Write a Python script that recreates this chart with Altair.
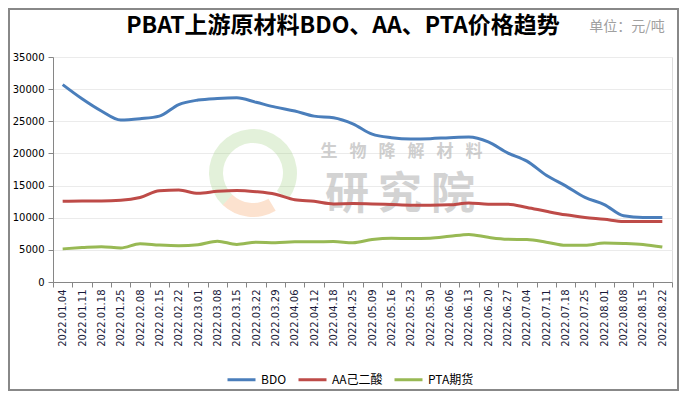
import altair as alt
import pandas as pd

dates = ["2022.01.04", "2022.01.11", "2022.01.18", "2022.01.25", "2022.02.08", "2022.02.15",
         "2022.02.22", "2022.03.01", "2022.03.08", "2022.03.15", "2022.03.22", "2022.03.29",
         "2022.04.06", "2022.04.12", "2022.04.18", "2022.04.25", "2022.05.09", "2022.05.16",
         "2022.05.23", "2022.05.30", "2022.06.06", "2022.06.13", "2022.06.20", "2022.06.27",
         "2022.07.04", "2022.07.11", "2022.07.18", "2022.07.25", "2022.08.01", "2022.08.08",
         "2022.08.15", "2022.08.22"]

bdo = [30700, 28500, 26600, 25200, 25400, 25800, 27600, 28300, 28550, 28650, 27950, 27200,
       26600, 25800, 25550, 24600, 23000, 22450, 22250, 22300, 22450, 22550, 21800, 20100,
       18800, 16600, 14950, 13150, 12050, 10300, 10050, 10050]
aa = [12550, 12600, 12600, 12700, 13150, 14200, 14300, 13800, 14100, 14250, 14050, 13650,
      12800, 12550, 12150, 12200, 12150, 12050, 11950, 11950, 12000, 12300, 12100, 12100,
      11600, 11000, 10450, 10050, 9750, 9400, 9400, 9400]
pta = [5150, 5350, 5500, 5300, 5950, 5750, 5650, 5800, 6350, 5850, 6200, 6100,
       6250, 6250, 6300, 6100, 6600, 6800, 6750, 6800, 7100, 7400, 6950, 6650,
       6600, 6200, 5700, 5700, 6050, 6000, 5850, 5450]

series = ["BDO", "AA己二酸", "PTA期货"]
colors = ["#4a7ebb", "#be4b48", "#98b954"]
y_ticks = [0, 5000, 10000, 15000, 20000, 25000, 30000, 35000]

title_text = "PBAT上游原材料BDO、AA、PTA价格趋势"
unit_text = "单位：元/吨"
wm_small = ["生", "物", "降", "解", "材", "料"]
wm_big = ["研", "究", "院"]

rows = []
for name, vals in zip(series, [bdo, aa, pta]):
    for d, v in zip(dates, vals):
        rows.append({"date": d, "value": v, "series": name})
df = pd.DataFrame(rows)

W, H = 619, 225
FONT = "DejaVu Sans"
CJK = "Noto Sans CJK SC"

one = pd.DataFrame({"a": [0]})

# watermark
ring = alt.Chart(one).mark_arc(innerRadius=30, outerRadius=44, theta=3.9, theta2=8.5,
                               color="#9ccc7a", opacity=0.28).encode(
    x=alt.value(200), y=alt.value(116))
ring2 = alt.Chart(one).mark_arc(innerRadius=30, outerRadius=44, theta=2.6, theta2=3.9,
                                color="#f4a060", opacity=0.3).encode(
    x=alt.value(200), y=alt.value(116))

wm1 = pd.DataFrame({"t": wm_small, "px": [276 + 29 * i for i in range(6)]})
wm2 = pd.DataFrame({"t": wm_big, "px": [294 + 53 * i for i in range(3)]})
wmt1 = alt.Chart(wm1).mark_text(font=CJK, fontSize=17, fontWeight="bold", color="#b0b0b0",
                                opacity=0.6).encode(
    x=alt.X("px:Q", scale=None), y=alt.value(95), text="t:N")
wmt2 = alt.Chart(wm2).mark_text(font=CJK, fontSize=44, fontWeight="bold", color="#b0b0b0",
                                opacity=0.55).encode(
    x=alt.X("px:Q", scale=None), y=alt.value(139), text="t:N")

lines = alt.Chart(df).mark_line(interpolate="monotone", strokeWidth=3).encode(
    x=alt.X("date:N", sort=dates,
            scale=alt.Scale(type="band", paddingInner=0, paddingOuter=0),
            axis=alt.Axis(title=None, labelAngle=270, tickBand="extent", tickSize=5,
                          tickColor="#868686", domainColor="#868686", labelPadding=2,
                          labelFont=FONT, labelFontSize=10, labelColor="#1a1a3a",
                          grid=False)),
    y=alt.Y("value:Q", scale=alt.Scale(domain=[0, 35000], nice=False),
            axis=alt.Axis(title=None, values=y_ticks, format="d", tickSize=5,
                          tickColor="#868686", domainColor="#868686", labelPadding=4,
                          labelFont=FONT, labelFontSize=10, labelColor="#000000",
                          grid=True, gridColor="#ebebeb")),
    color=alt.Color("series:N", sort=series,
                    scale=alt.Scale(domain=series, range=colors),
                    legend=alt.Legend(title=None, orient="none", legendX=173, legendY=307,
                                      direction="horizontal", symbolType="stroke",
                                      symbolSize=784, symbolStrokeWidth=3, padding=0,
                                      labelFont=CJK, labelFontSize=12, labelColor="#000000",
                                      labelOffset=4, columnPadding=5)),
    order=alt.Order("series:N"),
    detail="series:N",
)

title = alt.Chart(one).mark_text(text=title_text, font=CJK, fontSize=23, fontWeight="bold",
                                 color="#000000", align="center", baseline="middle").encode(
    x=alt.value(290), y=alt.value(-31))
unit = alt.Chart(one).mark_text(text=unit_text, font=CJK, fontSize=14, color="#a0a0a0",
                                align="center", baseline="middle").encode(
    x=alt.value(574), y=alt.value(-30))
border = alt.Chart(one).mark_rect(fillOpacity=0, stroke="#888888", strokeWidth=2).encode(
    x=alt.value(-44), x2=alt.value(625), y=alt.value(-48), y2=alt.value(333))

chart = alt.layer(ring, ring2, wmt1, wmt2, lines, title, unit, border).properties(
    width=W, height=H,
    autosize=alt.AutoSizeParams(type="none"),
    padding={"left": 45, "top": 49, "right": 7, "bottom": 109},
).configure_view(stroke=None).configure(background="#ffffff")

chart.save("out.html", embed_options={"renderer": "svg", "actions": False})
